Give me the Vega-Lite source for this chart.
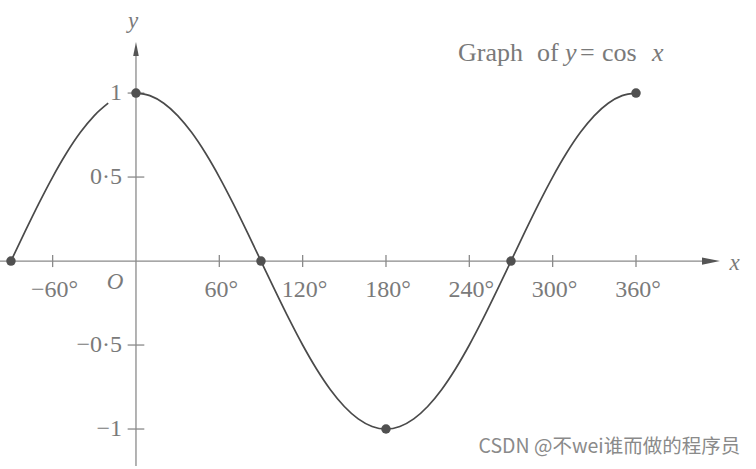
{
  "$schema": "https://vega.github.io/schema/vega-lite/v6.json",
  "width": 756,
  "height": 469,
  "padding": 0,
  "autosize": {"type": "none"},
  "background": "white",
  "config": {"view": {"stroke": null}},
  "datasets": {
    "curve": [
      {"deg": -90, "v": 0, "seg": "a"}, {"deg": -80, "v": 0.1736, "seg": "a"}, {"deg": -70, "v": 0.342, "seg": "a"},
      {"deg": -60, "v": 0.5, "seg": "a"}, {"deg": -50, "v": 0.6428, "seg": "a"}, {"deg": -40, "v": 0.766, "seg": "a"},
      {"deg": -30, "v": 0.866, "seg": "a"}, {"deg": -20, "v": 0.9397, "seg": "a"},
      {"deg": 0, "v": 1, "seg": "b"}, {"deg": 10, "v": 0.9848, "seg": "b"}, {"deg": 20, "v": 0.9397, "seg": "b"},
      {"deg": 30, "v": 0.866, "seg": "b"}, {"deg": 40, "v": 0.766, "seg": "b"}, {"deg": 50, "v": 0.6428, "seg": "b"},
      {"deg": 60, "v": 0.5, "seg": "b"}, {"deg": 70, "v": 0.342, "seg": "b"}, {"deg": 80, "v": 0.1736, "seg": "b"},
      {"deg": 90, "v": 0, "seg": "b"}, {"deg": 100, "v": -0.1736, "seg": "b"}, {"deg": 110, "v": -0.342, "seg": "b"},
      {"deg": 120, "v": -0.5, "seg": "b"}, {"deg": 130, "v": -0.6428, "seg": "b"}, {"deg": 140, "v": -0.766, "seg": "b"},
      {"deg": 150, "v": -0.866, "seg": "b"}, {"deg": 160, "v": -0.9397, "seg": "b"}, {"deg": 170, "v": -0.9848, "seg": "b"},
      {"deg": 180, "v": -1, "seg": "b"}, {"deg": 190, "v": -0.9848, "seg": "b"}, {"deg": 200, "v": -0.9397, "seg": "b"},
      {"deg": 210, "v": -0.866, "seg": "b"}, {"deg": 220, "v": -0.766, "seg": "b"}, {"deg": 230, "v": -0.6428, "seg": "b"},
      {"deg": 240, "v": -0.5, "seg": "b"}, {"deg": 250, "v": -0.342, "seg": "b"}, {"deg": 260, "v": -0.1736, "seg": "b"},
      {"deg": 270, "v": 0, "seg": "b"}, {"deg": 280, "v": 0.1736, "seg": "b"}, {"deg": 290, "v": 0.342, "seg": "b"},
      {"deg": 300, "v": 0.5, "seg": "b"}, {"deg": 310, "v": 0.6428, "seg": "b"}, {"deg": 320, "v": 0.766, "seg": "b"},
      {"deg": 330, "v": 0.866, "seg": "b"}, {"deg": 340, "v": 0.9397, "seg": "b"}, {"deg": 350, "v": 0.9848, "seg": "b"},
      {"deg": 360, "v": 1, "seg": "b"}
    ],
    "points": [
      {"deg": -90, "v": 0}, {"deg": 0, "v": 1}, {"deg": 90, "v": 0},
      {"deg": 180, "v": -1}, {"deg": 270, "v": 0}, {"deg": 360, "v": 1}
    ],
    "axes": [
      {"x1": -98, "x2": 410, "y1": 0, "y2": 0},
      {"x1": 0, "x2": 0, "y1": -1.22, "y2": 1.25}
    ],
    "xticks": [
      {"deg": -60, "label": "−60°"}, {"deg": 60, "label": "60°"}, {"deg": 120, "label": "120°"},
      {"deg": 180, "label": "180°"}, {"deg": 240, "label": "240°"}, {"deg": 300, "label": "300°"},
      {"deg": 360, "label": "360°"}
    ],
    "yticks": [
      {"v": 1, "label": "1"}, {"v": 0.5, "label": "0·5"}, {"v": -0.5, "label": "−0·5"}, {"v": -1, "label": "−1"}
    ],
    "arrows": [
      {"deg": 0, "v": 1.262, "dir": "up"},
      {"deg": 414, "v": 0, "dir": "right"}
    ],
    "italics": [
      {"deg": -15, "v": -0.125, "label": "O"},
      {"deg": -2, "v": 1.43, "label": "y"},
      {"deg": 431, "v": -0.01, "label": "x"}
    ],
    "title": [
      {"deg": 231.9, "v": 1.19, "label": "Graph", "style": "normal"},
      {"deg": 288.7, "v": 1.19, "label": "of", "style": "normal"},
      {"deg": 308.9, "v": 1.19, "label": "y", "style": "italic"},
      {"deg": 319.7, "v": 1.19, "label": "=", "style": "normal"},
      {"deg": 335.5, "v": 1.19, "label": "cos", "style": "normal"},
      {"deg": 371.5, "v": 1.19, "label": "x", "style": "italic"}
    ],
    "mark": [
      {"deg": 435, "v": -1.11, "label": "CSDN @不wei谁而做的程序员"}
    ]
  },
  "layer": [
    {
      "data": {"name": "axes"},
      "mark": {"type": "rule", "color": "#8a8a8a", "strokeWidth": 1.3},
      "encoding": {
        "x": {"field": "x1", "type": "quantitative", "scale": {"domain": [-97.9, 446.4], "nice": false, "zero": false}, "axis": null},
        "x2": {"field": "x2"},
        "y": {"field": "y1", "type": "quantitative", "scale": {"domain": [-1.238, 1.554], "nice": false, "zero": false}, "axis": null},
        "y2": {"field": "y2"}
      }
    },
    {
      "data": {"name": "xticks"},
      "mark": {"type": "rule", "color": "#8a8a8a", "strokeWidth": 1.3},
      "encoding": {
        "x": {"field": "deg", "type": "quantitative"},
        "y": {"datum": -0.036, "type": "quantitative"},
        "y2": {"datum": 0.036}
      }
    },
    {
      "data": {"name": "yticks"},
      "mark": {"type": "rule", "color": "#8a8a8a", "strokeWidth": 1.3},
      "encoding": {
        "x": {"datum": -6, "type": "quantitative"},
        "x2": {"datum": 6},
        "y": {"field": "v", "type": "quantitative"}
      }
    },
    {
      "data": {"name": "arrows"},
      "transform": [{"filter": "datum.dir === 'up'"}],
      "mark": {"type": "point", "shape": "M0,-1L0.4,1L-0.4,1Z", "size": 196, "filled": true, "color": "#555555", "opacity": 1},
      "encoding": {
        "x": {"field": "deg", "type": "quantitative"},
        "y": {"field": "v", "type": "quantitative"}
      }
    },
    {
      "data": {"name": "arrows"},
      "transform": [{"filter": "datum.dir === 'right'"}],
      "mark": {"type": "point", "shape": "M1,0L-1,-0.4L-1,0.4Z", "size": 324, "filled": true, "color": "#555555", "opacity": 1},
      "encoding": {
        "x": {"field": "deg", "type": "quantitative"},
        "y": {"field": "v", "type": "quantitative"}
      }
    },
    {
      "data": {"name": "curve"},
      "mark": {"type": "line", "interpolate": "monotone", "color": "#4a4a4a", "strokeWidth": 1.7},
      "encoding": {
        "x": {"field": "deg", "type": "quantitative"},
        "y": {"field": "v", "type": "quantitative"},
        "detail": {"field": "seg"}
      }
    },
    {
      "data": {"name": "points"},
      "mark": {"type": "point", "shape": "circle", "size": 90, "filled": true, "color": "#505050", "opacity": 1},
      "encoding": {
        "x": {"field": "deg", "type": "quantitative"},
        "y": {"field": "v", "type": "quantitative"}
      }
    },
    {
      "data": {"name": "xticks"},
      "mark": {"type": "text", "font": "Liberation Serif", "fontSize": 24, "color": "#7a7a7a", "align": "center", "baseline": "middle", "dx": 2},
      "encoding": {
        "x": {"field": "deg", "type": "quantitative"},
        "y": {"datum": -0.175, "type": "quantitative"},
        "text": {"field": "label"}
      }
    },
    {
      "data": {"name": "yticks"},
      "mark": {"type": "text", "font": "Liberation Serif", "fontSize": 24, "color": "#7a7a7a", "align": "right", "baseline": "middle"},
      "encoding": {
        "x": {"datum": -10, "type": "quantitative"},
        "y": {"field": "v", "type": "quantitative"},
        "text": {"field": "label"}
      }
    },
    {
      "data": {"name": "italics"},
      "mark": {"type": "text", "font": "Liberation Serif", "fontStyle": "italic", "fontSize": 23, "color": "#7a7a7a", "align": "center", "baseline": "middle"},
      "encoding": {
        "x": {"field": "deg", "type": "quantitative"},
        "y": {"field": "v", "type": "quantitative"},
        "text": {"field": "label"}
      }
    },
    {
      "data": {"name": "title"},
      "transform": [{"filter": "datum.style === 'normal'"}],
      "mark": {"type": "text", "font": "Liberation Serif", "fontSize": 26, "color": "#7a7a7a", "align": "left", "baseline": "alphabetic"},
      "encoding": {
        "x": {"field": "deg", "type": "quantitative"},
        "y": {"field": "v", "type": "quantitative"},
        "text": {"field": "label"}
      }
    },
    {
      "data": {"name": "title"},
      "transform": [{"filter": "datum.style === 'italic'"}],
      "mark": {"type": "text", "font": "Liberation Serif", "fontStyle": "italic", "fontSize": 26, "color": "#7a7a7a", "align": "left", "baseline": "alphabetic"},
      "encoding": {
        "x": {"field": "deg", "type": "quantitative"},
        "y": {"field": "v", "type": "quantitative"},
        "text": {"field": "label"}
      }
    },
    {
      "data": {"name": "mark"},
      "mark": {"type": "text", "font": "Noto Sans CJK SC", "fontSize": 19.5, "color": "#8a8a8a", "align": "right", "baseline": "middle"},
      "encoding": {
        "x": {"field": "deg", "type": "quantitative"},
        "y": {"field": "v", "type": "quantitative"},
        "text": {"field": "label"}
      }
    }
  ]
}
